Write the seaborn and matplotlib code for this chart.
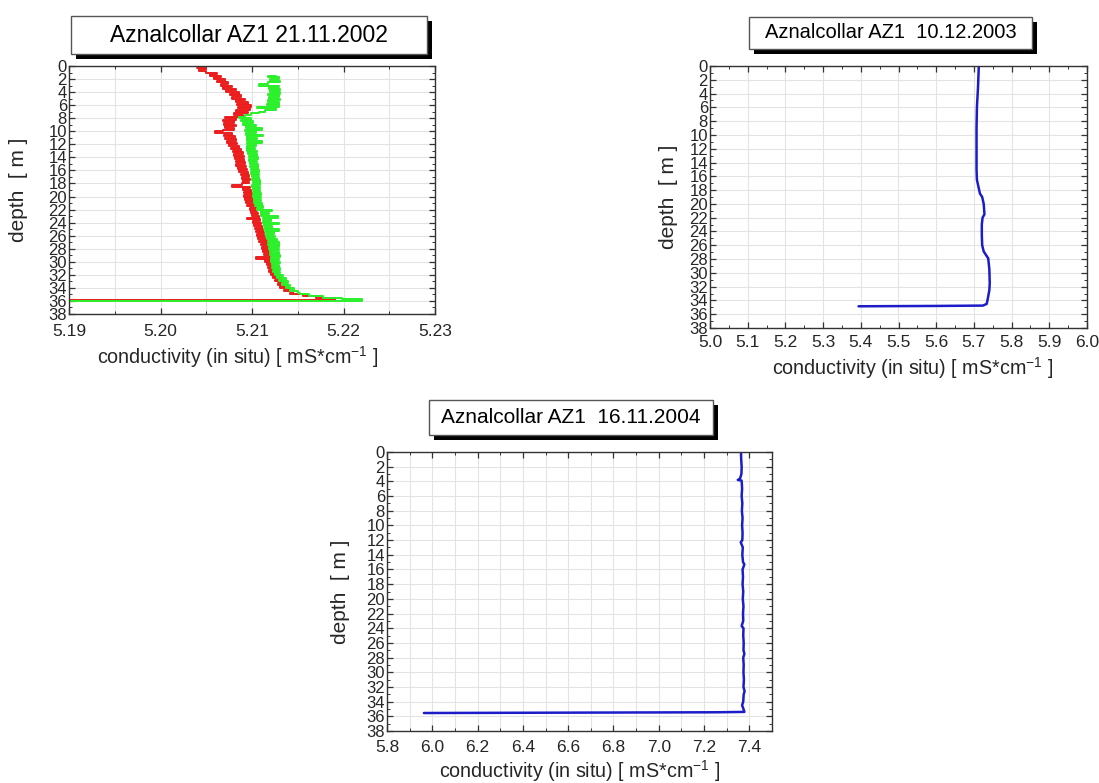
import numpy as np
import pandas as pd
import matplotlib
matplotlib.use("Agg")
import matplotlib.pyplot as plt
from matplotlib.patches import Rectangle
from matplotlib.ticker import MultipleLocator, FormatStrFormatter
import seaborn as sns

# ---------------- data ----------------
titles = ["Aznalcollar AZ1 21.11.2002", "Aznalcollar AZ1  10.12.2003", "Aznalcollar AZ1  16.11.2004"]
xlabel_text = "conductivity (in situ) [ mS*cm$^{-1}$ ]"
ylabel_text = "depth  [ m ]"
depth_ticks = [0, 2, 4, 6, 8, 10, 12, 14, 16, 18, 20, 22, 24, 26, 28, 30, 32, 34, 36, 38]

red_depth = [0.25, 0.5, 0.75, 1.0, 1.25, 1.5, 1.75, 2.0, 2.25, 2.5, 2.75, 3.0, 3.25, 3.5, 3.75, 4.0,
             4.25, 4.5, 4.75, 5.0, 5.25, 5.5, 5.75, 6.0, 6.25, 6.5, 6.75, 7.0, 7.25, 7.5, 7.75, 8.0,
             8.25, 8.5, 8.75, 9.0, 9.25, 9.5, 9.75, 10.0, 10.25, 10.5, 10.75, 11.0, 11.25, 11.5, 11.75, 12.0,
             12.25, 12.5, 12.75, 13.0, 13.25, 13.5, 13.75, 14.0, 14.25, 14.5, 14.75, 15.0, 15.25, 15.5, 15.75, 16.0,
             16.25, 16.5, 16.75, 17.0, 17.25, 17.5, 17.75, 18.0, 18.25, 18.5, 18.75, 19.0, 19.25, 19.5, 19.75, 20.0,
             20.25, 20.5, 20.75, 21.0, 21.25, 21.5, 21.75, 22.0, 22.25, 22.5, 22.75, 23.0, 23.25, 23.5, 23.75, 24.0,
             24.25, 24.5, 24.75, 25.0, 25.25, 25.5, 25.75, 26.0, 26.25, 26.5, 26.75, 27.0, 27.25, 27.5, 27.75, 28.0,
             28.25, 28.5, 28.75, 29.0, 29.25, 29.5, 29.75, 30.0, 30.25, 30.5, 30.75, 31.0, 31.25, 31.5, 31.75, 32.0,
             32.25, 32.5, 32.75, 33.0, 33.25, 33.5, 33.75, 34.0, 34.25, 34.5, 34.75, 35.0, 35.25, 35.5, 35.75, 35.85,
             35.9]
red_cond = [5.2040, 5.2050, 5.2042, 5.2050, 5.2062, 5.2054, 5.2066, 5.2058, 5.2070, 5.2062, 5.2074, 5.2066, 5.2078, 5.2068, 5.2082, 5.2072,
            5.2086, 5.2076, 5.2088, 5.2078, 5.2092, 5.2082, 5.2096, 5.2084, 5.2099, 5.2085, 5.2098, 5.2083, 5.2096, 5.2080, 5.2090, 5.2070,
            5.2082, 5.2068, 5.2080, 5.2069, 5.2082, 5.2070, 5.2080, 5.2068, 5.2060, 5.2078, 5.2069, 5.2081, 5.2071, 5.2082, 5.2073, 5.2084,
            5.2075, 5.2086, 5.2077, 5.2088, 5.2079, 5.2090, 5.2080, 5.2091, 5.2081, 5.2091, 5.2082, 5.2092, 5.2083, 5.2093, 5.2085, 5.2094,
            5.2086, 5.2096, 5.2088, 5.2097, 5.2089, 5.2098, 5.2090, 5.2097, 5.2089, 5.2078, 5.2098, 5.2090, 5.2099, 5.2091, 5.2100, 5.2091,
            5.2101, 5.2092, 5.2101, 5.2093, 5.2102, 5.2095, 5.2104, 5.2098, 5.2106, 5.2099, 5.2107, 5.2100, 5.2108, 5.2094, 5.2109, 5.2101,
            5.2110, 5.2102, 5.2111, 5.2103, 5.2112, 5.2104, 5.2113, 5.2106, 5.2114, 5.2107, 5.2116, 5.2108, 5.2117, 5.2110, 5.2119, 5.2111,
            5.2120, 5.2112, 5.2121, 5.2113, 5.2120, 5.2104, 5.2121, 5.2114, 5.2122, 5.2116, 5.2124, 5.2117, 5.2126, 5.2119, 5.2128, 5.2121,
            5.2130, 5.2123, 5.2132, 5.2125, 5.2134, 5.2128, 5.2137, 5.2131, 5.2140, 5.2135, 5.2145, 5.2142, 5.2156, 5.2170, 5.2191, 5.2191,
            5.1800]

green_depth = [1.5, 1.75, 2.0, 2.25, 2.5, 2.75, 3.0, 3.25, 3.5, 3.75, 4.0,
               4.25, 4.5, 4.75, 5.0, 5.25, 5.5, 5.75, 6.0, 6.25, 6.5, 6.75, 7.0, 7.25, 7.5, 7.75, 8.0,
               8.25, 8.5, 8.75, 9.0, 9.25, 9.5, 9.75, 10.0, 10.25, 10.5, 10.75, 11.0, 11.25, 11.5, 11.75, 12.0,
               12.25, 12.5, 12.75, 13.0, 13.25, 13.5, 13.75, 14.0, 14.25, 14.5, 14.75, 15.0, 15.25, 15.5, 15.75, 16.0,
               16.25, 16.5, 16.75, 17.0, 17.25, 17.5, 17.75, 18.0, 18.25, 18.5, 18.75, 19.0, 19.25, 19.5, 19.75, 20.0,
               20.25, 20.5, 20.75, 21.0, 21.25, 21.5, 21.75, 22.0, 22.25, 22.5, 22.75, 23.0, 23.25, 23.5, 23.75, 24.0,
               24.25, 24.5, 24.75, 25.0, 25.25, 25.5, 25.75, 26.0, 26.25, 26.5, 26.75, 27.0, 27.25, 27.5, 27.75, 28.0,
               28.25, 28.5, 28.75, 29.0, 29.25, 29.5, 29.75, 30.0, 30.25, 30.5, 30.75, 31.0, 31.25, 31.5, 31.75, 32.0,
               32.25, 32.5, 32.75, 33.0, 33.25, 33.5, 33.75, 34.0, 34.25, 34.5, 34.75, 35.0, 35.25, 35.5, 35.75, 35.95,
               36.0]
green_cond = [5.2126, 5.2118, 5.2130, 5.2120, 5.2131, 5.2118, 5.2108, 5.2130, 5.2119, 5.2131, 5.2120,
              5.2131, 5.2118, 5.2130, 5.2119, 5.2131, 5.2117, 5.2130, 5.2116, 5.2129, 5.2106, 5.2126, 5.2114, 5.2108, 5.2099, 5.2092, 5.2086,
              5.2099, 5.2088, 5.2101, 5.2090, 5.2104, 5.2093, 5.2111, 5.2092, 5.2104, 5.2093, 5.2112, 5.2094, 5.2105, 5.2095, 5.2111, 5.2095,
              5.2104, 5.2094, 5.2103, 5.2095, 5.2105, 5.2096, 5.2105, 5.2097, 5.2107, 5.2097, 5.2106, 5.2098, 5.2107, 5.2098, 5.2107, 5.2099,
              5.2108, 5.2099, 5.2108, 5.2100, 5.2108, 5.2100, 5.2109, 5.2101, 5.2109, 5.2100, 5.2109, 5.2101, 5.2109, 5.2101, 5.2110, 5.2101,
              5.2110, 5.2102, 5.2110, 5.2102, 5.2111, 5.2103, 5.2112, 5.2105, 5.2122, 5.2110, 5.2119, 5.2110, 5.2128, 5.2112, 5.2121, 5.2112,
              5.2130, 5.2113, 5.2122, 5.2113, 5.2129, 5.2114, 5.2124, 5.2115, 5.2125, 5.2116, 5.2127, 5.2117, 5.2130, 5.2118, 5.2129, 5.2119,
              5.2130, 5.2120, 5.2130, 5.2120, 5.2131, 5.2121, 5.2130, 5.2121, 5.2131, 5.2122, 5.2130, 5.2122, 5.2131, 5.2123, 5.2131, 5.2125,
              5.2134, 5.2127, 5.2137, 5.2130, 5.2139, 5.2133, 5.2142, 5.2137, 5.2146, 5.2142, 5.2150, 5.2152, 5.2162, 5.2178, 5.2198, 5.2220,
              5.1800]

blue03_depth = [0, 3, 6, 9, 12, 15, 16.5, 17.5, 18.5, 19.0, 20.0, 21.5, 22.0, 23.0, 24.5, 26.0, 26.9, 27.9,
                29.5, 31.5, 32.5, 33.7, 34.5, 34.75, 34.8, 34.85]
blue03_cond = [5.713, 5.711, 5.708, 5.707, 5.707, 5.707, 5.708, 5.712, 5.716, 5.722, 5.726, 5.728, 5.723, 5.721,
               5.721, 5.722, 5.726, 5.738, 5.741, 5.742, 5.741, 5.737, 5.734, 5.724, 5.600, 5.394]

blue04_depth = [0, 1, 2, 3, 3.7, 3.8, 3.9, 5, 6, 7, 8, 9, 10, 11, 12, 12.3, 13, 14, 15, 15.3, 16, 17, 18, 19,
                20, 21, 22, 23, 23.7, 24, 25, 26, 27, 27.5, 28, 29, 30, 31, 32, 32.6, 33, 34, 34.5, 35, 35.4,
                35.45, 35.55]
blue04_cond = [7.363, 7.364, 7.366, 7.365, 7.358, 7.349, 7.366, 7.368, 7.366, 7.369, 7.367, 7.370, 7.368, 7.370,
               7.369, 7.362, 7.371, 7.369, 7.372, 7.378, 7.370, 7.372, 7.370, 7.373, 7.371, 7.374, 7.372, 7.373,
               7.366, 7.374, 7.373, 7.375, 7.374, 7.378, 7.373, 7.375, 7.374, 7.376, 7.374, 7.379, 7.375, 7.373,
               7.368, 7.374, 7.378, 7.250, 5.963]

# ---------------- style ----------------
sns.set_style("ticks")
plt.rcParams["font.family"] = ["Liberation Sans", "DejaVu Sans"]
plt.rcParams["mathtext.default"] = "regular"

W, H = 1099, 783
fig = plt.figure(figsize=(W / 100, H / 100), dpi=100)


def px_axes(l, t, r, b):
    return fig.add_axes([l / W, 1 - b / H, (r - l) / W, (b - t) / H])


def title_box(l, t, r, b, text, fs):
    off = 5
    fig.add_artist(Rectangle((l / W + off / W, 1 - (b + off) / H), (r - l) / W, (b - t) / H,
                             transform=fig.transFigure, facecolor="black", edgecolor="black", lw=0))
    fig.add_artist(Rectangle((l / W, 1 - b / H), (r - l) / W, (b - t) / H,
                             transform=fig.transFigure, facecolor="white", edgecolor="#555555", lw=1.0))
    fig.text((l + r) / 2 / W, 1 - (t + b) / 2 / H, text, ha="center", va="center", fontsize=fs, color="black")


def style_axes(ax, xlim, xmajor, xminor, xfmt, gridstep, xpad, xlab_pos, ylab_x):
    ax.set_xlim(*xlim)
    ax.set_ylim(38, 0)
    ax.set_yticks(depth_ticks)
    ax.yaxis.set_minor_locator(MultipleLocator(1))
    ax.xaxis.set_major_locator(MultipleLocator(xmajor))
    ax.xaxis.set_minor_locator(MultipleLocator(xminor))
    ax.xaxis.set_major_formatter(FormatStrFormatter(xfmt))
    ax.tick_params(which="both", direction="in", top=True, right=True, color="#333333")
    ax.tick_params(which="major", length=4, width=0.9)
    ax.tick_params(which="minor", length=2, width=0.7)
    ax.tick_params(axis="x", which="major", pad=xpad, labelsize=12.5)
    ax.tick_params(axis="y", which="major", pad=1.5, labelsize=12)
    for s in ax.spines.values():
        s.set_color("#333333")
        s.set_linewidth(1.0)
    for xv in np.arange(xlim[0], xlim[1] + 1e-9, gridstep):
        ax.axvline(xv, color="#e3e3e3", lw=0.8, zorder=0)
    for yv in depth_ticks:
        ax.axhline(yv, color="#e3e3e3", lw=0.8, zorder=0)
    ax.set_xlabel(xlabel_text, fontsize=14.2, va="center")
    ax.xaxis.set_label_coords(xlab_pos[0], xlab_pos[1])
    ax.set_ylabel(ylabel_text, fontsize=15, va="center")
    ax.yaxis.set_label_coords(ylab_x, 0.5)


# ---- panel 1 ----
ax1 = px_axes(69, 66, 435, 314)
df_r = pd.DataFrame({"depth": red_depth, "cond": red_cond})
df_g = pd.DataFrame({"depth": green_depth, "cond": green_cond})
sns.lineplot(data=df_r, x="cond", y="depth", sort=False, estimator=None, orient="y",
             color="#ec1c1c", lw=1.4, drawstyle="steps-post", ax=ax1)
sns.lineplot(data=df_g, x="cond", y="depth", sort=False, estimator=None, orient="y",
             color="#2af02a", lw=1.4, drawstyle="steps-post", ax=ax1)
style_axes(ax1, (5.19, 5.23), 0.01, 0.005, "%.2f", 0.005, 7, (0.46, -0.173), -0.139)
title_box(71, 16, 427, 54, titles[0], 16.5)

# ---- panel 2 ----
ax2 = px_axes(710, 66, 1087, 328)
df_b3 = pd.DataFrame({"depth": blue03_depth, "cond": blue03_cond})
sns.lineplot(data=df_b3, x="cond", y="depth", sort=False, estimator=None, orient="y",
             color="#1c1cc8", lw=1.8, ax=ax2)
style_axes(ax2, (5.0, 6.0), 0.1, 0.05, "%.1f", 0.1, 5, (0.537, -0.153), -0.111)
title_box(749, 17, 1032, 49, titles[1], 14.5)

# ---- panel 3 ----
ax3 = px_axes(387, 452, 772, 731)
df_b4 = pd.DataFrame({"depth": blue04_depth, "cond": blue04_cond})
sns.lineplot(data=df_b4, x="cond", y="depth", sort=False, estimator=None, orient="y",
             color="#1c1cc8", lw=1.8, ax=ax3)
style_axes(ax3, (5.8, 7.5), 0.2, 0.1, "%.1f", 0.1, 6.5, (0.5, -0.142), -0.122)
title_box(429, 400, 713, 435, titles[2], 15)

for ax in (ax1, ax2, ax3):
    leg = ax.get_legend()
    if leg is not None:
        leg.remove()

fig.savefig("out.png", dpi=100)
